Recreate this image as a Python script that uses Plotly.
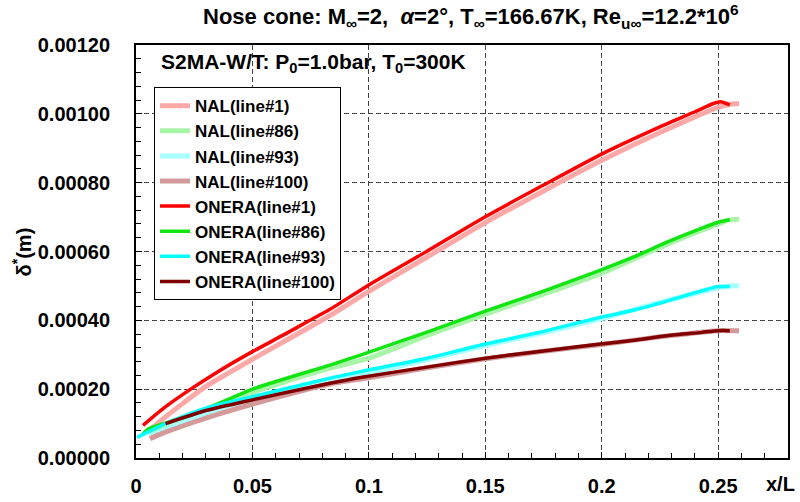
import plotly.graph_objects as go

# ONERA computations (solid lines)
onera_x_red = [0.003, 0.0115, 0.023, 0.0345, 0.05, 0.0632, 0.0747, 0.0833, 0.1, 0.125, 0.15, 0.175, 0.2, 0.225, 0.24, 0.248, 0.251, 0.255]
onera_red = [0.000095, 0.000143, 0.000198, 0.000248, 0.000309, 0.000357, 0.0004, 0.000432, 0.000503, 0.000601, 0.000701, 0.000793, 0.000883, 0.000962, 0.001006, 0.00103, 0.001035, 0.001026]

onera_x_green = [0.003, 0.0058, 0.0259, 0.05, 0.0833, 0.0964, 0.125, 0.15, 0.175, 0.1995, 0.214, 0.228, 0.243, 0.25, 0.255]
onera_green = [0.00007, 0.000086, 0.00013, 0.0002, 0.00027, 0.000299, 0.000366, 0.000427, 0.000485, 0.000546, 0.000585, 0.000627, 0.000668, 0.000685, 0.000692]

onera_x_cyan = [0.0005, 0.0127, 0.03, 0.05, 0.0833, 0.0964, 0.125, 0.15, 0.175, 0.1995, 0.214, 0.228, 0.243, 0.25, 0.255]
onera_cyan = [0.00006, 0.0001, 0.000145, 0.000178, 0.000232, 0.000251, 0.00029, 0.000331, 0.000368, 0.000409, 0.00043, 0.000456, 0.000486, 0.000498, 0.000498]

onera_x_brown = [0.0127, 0.03, 0.05, 0.0833, 0.0964, 0.125, 0.15, 0.175, 0.1995, 0.214, 0.228, 0.243, 0.25, 0.255]
onera_brown = [0.0001, 0.000138, 0.000169, 0.000217, 0.000234, 0.000264, 0.00029, 0.000311, 0.000331, 0.000342, 0.000355, 0.000365, 0.00037, 0.00037]

# NAL computations (hatched lines)
nal_x = [0.006, 0.01, 0.02, 0.03, 0.04, 0.05, 0.0833, 0.1, 0.125, 0.15, 0.175, 0.2, 0.225, 0.25, 0.255, 0.259]
nal_red = [0.000082, 0.000105, 0.000158, 0.000208, 0.000248, 0.000287, 0.000414, 0.000484, 0.000584, 0.000684, 0.000776, 0.000865, 0.000946, 0.001019, 0.001028, 0.00103]
nal_green = [0.00007, 0.000082, 0.000112, 0.000142, 0.000168, 0.000191, 0.000261, 0.00029, 0.000356, 0.000418, 0.000476, 0.000537, 0.000612, 0.00068, 0.000692, 0.000694]
nal_cyan = [0.000062, 0.000075, 0.000103, 0.00013, 0.000152, 0.000173, 0.000227, 0.000247, 0.000286, 0.000327, 0.000364, 0.000405, 0.000452, 0.000494, 0.0005, 0.0005]
nal_brown = [0.000056, 0.000068, 0.000093, 0.000116, 0.000137, 0.000157, 0.000215, 0.000233, 0.000262, 0.000288, 0.00031, 0.00033, 0.000352, 0.00037, 0.00037, 0.00037]

x_ticks = [0, 0.05, 0.1, 0.15, 0.2, 0.25]
x_tick_text = ["0", "0.05", "0.1", "0.15", "0.2", "0.25"]
y_ticks = [0, 0.0002, 0.0004, 0.0006, 0.0008, 0.001, 0.0012]

FONT = "Liberation Sans, Arial, sans-serif"

fig = go.Figure()

nal_series = [
    ("NAL(line#1)", nal_red, "#ffa8a8"),
    ("NAL(line#86)", nal_green, "#a8f5a8"),
    ("NAL(line#93)", nal_cyan, "#a8ffff"),
    ("NAL(line#100)", nal_brown, "#d49a9a"),
]
for name, ys, col in nal_series:
    fig.add_trace(go.Scatter(x=nal_x, y=ys, mode="lines", name=name,
                             line=dict(color=col, width=5, shape="spline", smoothing=0.6)))

onera_series = [
    ("ONERA(line#1)", onera_x_red, onera_red, "#ff0000"),
    ("ONERA(line#86)", onera_x_green, onera_green, "#11e611"),
    ("ONERA(line#93)", onera_x_cyan, onera_cyan, "#00ffff"),
    ("ONERA(line#100)", onera_x_brown, onera_brown, "#800000"),
]
for name, xs, ys, col in onera_series:
    fig.add_trace(go.Scatter(x=xs, y=ys, mode="lines", name=name,
                             line=dict(color=col, width=3.5, shape="spline", smoothing=0.6)))

axis_common = dict(
    showline=True, linecolor="black", linewidth=2, mirror=True,
    ticks="inside", tickcolor="black", ticklen=6, tickwidth=1,
    showgrid=True, gridcolor="#444444", gridwidth=1, griddash="5px,3px",
    zeroline=False, automargin=False,
    tickfont=dict(family=FONT, size=20, color="black", weight="bold"),
)

fig.update_xaxes(range=[0, 0.28], tickvals=x_ticks, ticktext=x_tick_text,
                 minor=dict(dtick=0.01, ticks="inside", ticklen=5, tickcolor="black", showgrid=False),
                 ticklabelstandoff=9, **axis_common)
fig.update_yaxes(range=[0, 0.0012], tickvals=y_ticks, tickformat=".5f",
                 minor=dict(dtick=0.00004, ticks="inside", ticklen=5, tickcolor="black", showgrid=False),
                 ticklabelstandoff=20, **axis_common)

fig.update_layout(
    width=800, height=502,
    margin=dict(l=136, r=12, t=45, b=44, autoexpand=False),
    paper_bgcolor="white", plot_bgcolor="white",
    font=dict(family=FONT, color="black"),
    showlegend=True,
    legend=dict(x=0.0276, y=0.898, xanchor="left", yanchor="top",
                bgcolor="white", bordercolor="black", borderwidth=1,
                font=dict(family=FONT, size=17, color="black", weight="bold"),
                tracegroupgap=0, itemwidth=30),
    annotations=[
        dict(text="Nose cone: M<sub>∞</sub>=2,  <i>α</i>=2°, T<sub>∞</sub>=166.67K, Re<sub>u∞</sub>=12.2*10<sup>6</sup>",
             xref="paper", yref="paper", x=0.514, y=1.068, xanchor="center", yanchor="middle",
             showarrow=False, font=dict(family=FONT, size=22, color="black", weight="bold")),
        dict(text="S2MA-W/T: P<sub>0</sub>=1.0bar, T<sub>0</sub>=300K",
             xref="paper", yref="paper", x=0.035, y=0.956, xanchor="left", yanchor="middle",
             showarrow=False, font=dict(family=FONT, size=21, color="black", weight="bold")),
        dict(text="δ<sup>*</sup>(m)", textangle=-90,
             xref="paper", yref="paper", x=-0.175, y=0.5, xanchor="center", yanchor="middle",
             showarrow=False, font=dict(family=FONT, size=20, color="black", weight="bold")),
        dict(text="x/L",
             xref="paper", yref="paper", x=0.989, y=-0.063, xanchor="center", yanchor="middle",
             showarrow=False, font=dict(family=FONT, size=20, color="black", weight="bold")),
    ],
)

fig.write_html("out.html")
